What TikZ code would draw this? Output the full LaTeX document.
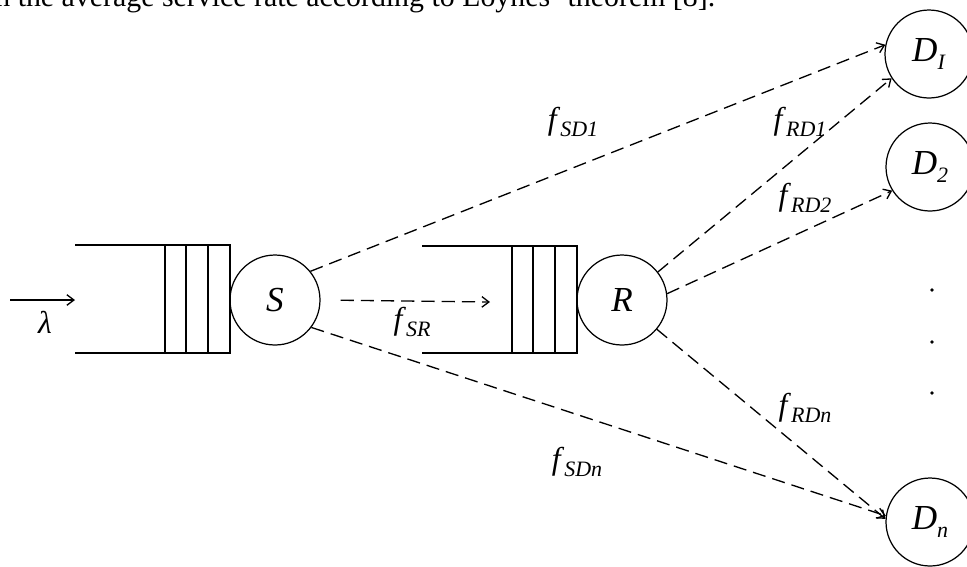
\documentclass[tikz,border=0pt]{standalone}
\usepackage{fontspec}
\setmainfont{Liberation Serif}
\usetikzlibrary{arrows.meta}
\newcommand\fsub[2]{\textit{#1}\raisebox{-0.5ex}{\fontsize{12.5}{14}\selectfont\textit{#2}}}

\begin{document}
\begin{tikzpicture}[x=0.02cm,y=-0.02cm,>={Straight Barb[length=4pt,width=6pt]},
  flow/.style={dashed,dash pattern=on 7.5pt off 4pt,->,line width=0.75pt},
  queue/.style={line width=0.9pt},
  lbl/.style={font=\fontsize{18}{20}\selectfont,inner sep=1pt}]
\useasboundingbox (0,0) rectangle (967,566);
\clip (0,0) rectangle (967,566);
\node[anchor=base west,inner sep=0,font=\fontsize{17}{20}\selectfont] (caption) at (-5,6)
  {n the average service rate according to Loynes' theorem [8].};
\begin{scope}[every node/.style={circle,draw,line width=0.7pt,inner sep=0,font=\fontsize{20}{22}\selectfont}]
\node[minimum size=1.8cm] (S) at (275,300) {\textit{S}};
\node[minimum size=1.8cm] (R) at (622,300) {\textit{R}};
\node[minimum size=1.76cm] (D1) at (929,54) {\fsub{D}{I}};
\node[minimum size=1.76cm] (D2) at (930,167) {\fsub{D}{2}};
\node[minimum size=1.76cm] (Dn) at (930,522) {\fsub{D}{n}};
\end{scope}
% queues
\draw[queue] (75,245) -- (230,245) (75,353) -- (230,353);
\draw[queue] (165,245) rectangle (230,353) (186,245) -- (186,353) (208,245) -- (208,353);
\draw[queue] (422,246) -- (577,246) (422,353) -- (577,353);
\draw[queue] (512,246) rectangle (577,353) (533,246) -- (533,353) (555,246) -- (555,353);
% arrival
\coordinate (lamin) at (10,300);
\coordinate (lamout) at (75,300);
\draw[->,line width=0.75pt] (lamin) -- (lamout);
\node[lbl] (lam) at (45,322) {\textit{λ}};
% flows
\coordinate (srend) at (490,302);
\draw[flow] (S.39) -- (D1.168);
\draw[flow] (S.-37) -- (Dn.172);
\draw[flow,shorten <=0.4cm] (S.east) -- (srend);
\draw[flow] (R.38) -- (D1.213);
\draw[flow] (R.8) -- (D2.212);
\draw[flow] (R.-40) -- (Dn.176);
\node[lbl] (fsd1) at (573,122) {\fsub{f}{SD1}};
\node[lbl] (frd1) at (800,122) {\fsub{f}{RD1}};
\node[lbl] (frd2) at (805,198) {\fsub{f}{RD2}};
\node[lbl] (frdn) at (805,408) {\fsub{f}{RDn}};
\node[lbl] (fsdn) at (577,462) {\fsub{f}{SDn}};
\node[lbl] (fsr) at (412,322) {\fsub{f}{SR}};
% dots
\foreach \y in {290,342,393}
  \fill (932,\y) circle (1.8);
\end{tikzpicture}
\end{document}
